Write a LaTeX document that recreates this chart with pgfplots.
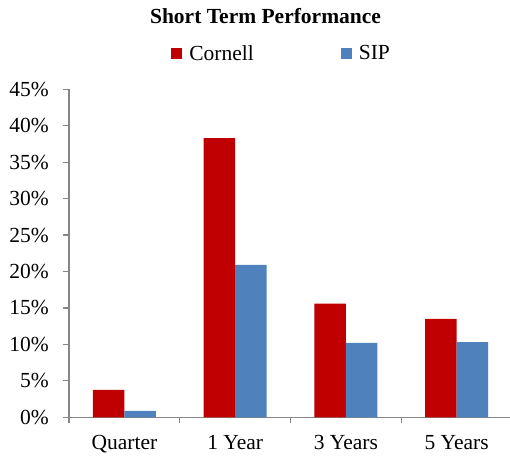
\documentclass[border=0pt]{standalone}
\usepackage{fontspec}
\setmainfont{Liberation Serif}
\usepackage{pgfplots}
\pgfplotsset{compat=1.18}

\definecolor{cornellred}{RGB}{192,0,0}
\definecolor{sipblue}{RGB}{79,129,189}
\definecolor{axisgray}{RGB}{134,134,134}

\begin{document}
\begin{tikzpicture}
  \useasboundingbox (-69bp,-38.7bp) rectangle (441bp,417.3bp);
  \begin{axis}[
    scale only axis,
    width=443bp,
    height=328bp,
    ybar=0pt,
    bar width=31.5bp,
    xmin=-0.5, xmax=3.5,
    ymin=0, ymax=45,
    xtick={0,1,2,3},
    xticklabels={Quarter, 1 Year, 3 Years, 5 Years},
    major x tick style={draw=none},
    minor xtick={-0.5,0.5,1.5,2.5,3.5},
    ytick={0,5,...,45},
    yticklabel={\pgfmathprintnumber{\tick}\%},
    /pgf/number format/assume math mode=true,
    axis x line*=bottom,
    axis y line*=left,
    axis line style={axisgray, line width=1.2bp},
    tick style={axisgray, line width=1.2bp},
    tick align=outside,
    major tick length=6bp,
    minor tick length=6bp,
    tick label style={font=\fontsize{21.5bp}{25bp}\selectfont},
    xticklabel style={anchor=north, inner sep=0pt, yshift=-12bp},
    yticklabel style={anchor=east, inner sep=0pt, xshift=-14bp},
    legend columns=2,
    legend style={at={(0.48,1.109)}, anchor=center, draw=none, fill=none,
      font=\fontsize{21.5bp}{25bp}\selectfont,
      /tikz/every even column/.append style={column sep=85bp},
      /tikz/every odd column/.append style={column sep=5bp}},
    legend image code/.code={\fill[#1] (0bp,-5.5bp) rectangle (11bp,5.5bp);},
    clip=false,
  ]
    \addplot[fill=cornellred, draw=none] coordinates {
      (0,3.75) (1,38.3) (2,15.6) (3,13.5)
    };
    \addlegendentry{Cornell}
    \addplot[fill=sipblue, draw=none] coordinates {
      (0,0.87) (1,20.9) (2,10.2) (3,10.3)
    };
    \addlegendentry{SIP}
    \node[anchor=base, font=\bfseries\fontsize{21.5bp}{25bp}\selectfont]
      at (rel axis cs:0.4436,1.201) {Short Term Performance};
  \end{axis}
\end{tikzpicture}
\end{document}
